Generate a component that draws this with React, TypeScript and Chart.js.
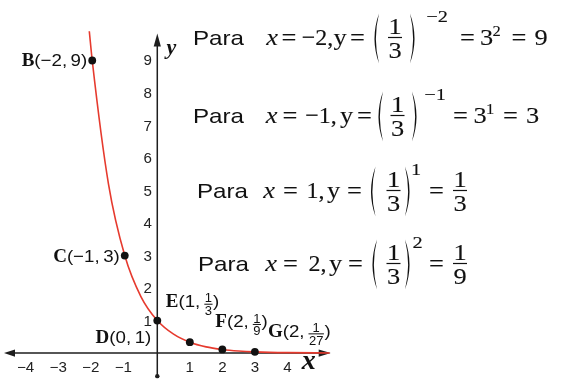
import React, { useEffect, useRef } from "react";
import { Chart, registerables } from "chart.js";

Chart.register(...registerables);

// ---------- data ----------
const POINT_NAMES = ["B", "C", "D", "E", "F", "G"];
const POINT_X = [-2, -1, 0, 1, 2, 3];
const POINT_Y = [9, 3, 1, 1 / 3, 1 / 9, 1 / 27];
const LABEL_X_TEXT = ["−2", "−1", "0", "1", "2", "2"];
const LABEL_Y_TEXT = ["9", "3", "1", "1/3", "1/9", "1/27"];

// curve samples
const CURVE_X = [-2.09, -2, -1.5, -1, -0.5, 0, 0.5, 1, 1.5, 2, 2.5, 3, 4, 5.3];
const CURVE_Y = [9.9, 9, 5.2, 3, 1.73, 1, 0.58, 0.333, 0.19, 0.111, 0.064, 0.037, 0.012, 0.003];

const X_TICKS = [-4, -3, -2, -1, 1, 2, 3, 4];
const X_TICK_LABELS = ["−4", "−3", "−2", "−1", "1", "2", "3", "4"];
const Y_TICKS = [1, 2, 3, 4, 5, 6, 7, 8, 9];
const Y_TICK_LABELS = ["1", "2", "3", "4", "5", "6", "7", "8", "9"];

// formula rows: Para x = X, y = (1/3)^EXP = ...
const FORMULA_X = ["−2", "−1", "1", "2"];
const FORMULA_EXP = ["−2", "−1", "1", "2"];
const FORMULA_BASE = ["1", "3"];
const FORMULA_POWER: (string[] | null)[] = [["3", "2", "9"], ["3", "1", "3"], null, null];
const FORMULA_FRAC: (string[] | null)[] = [null, null, ["1", "3"], ["1", "9"]];

// ---------- layout / style ----------
const W = 564;
const H = 383;
const X_MIN = -4.712;
const X_MAX = 12.379;
const Y_MIN = -0.798;
const Y_MAX = 10.738;
const AXIS_X_END = [-4.712, 5.33];
const AXIS_Y_END = [-0.68, 9.83];
const RED = "#e63a2e";
const AXIS_COLOR = "#1e1e1e";

const SANS = '"Liberation Sans", Arial, sans-serif';
const SERIF = '"Liberation Serif", "Times New Roman", serif';

const LABEL_POS = [
  { align: "right", dx: -5, dy: 6 },
  { align: "right", dx: -5, dy: 6 },
  { align: "right", dx: -6, dy: 22 },
  { align: "left", dx: -24, dy: -35 },
  { align: "left", dx: -7, dy: -22 },
  { align: "left", dx: 13, dy: -15 },
];

const ROWS = [
  { base: 45, para: 193, xC: 272, eq1: 289, val: 317.5, yC: 340, eq2: 357.5, lp: 376, fr: 395, rp: 413, ex: 437, eq3: 467.5, b: 486.7, sup: 496.5, eq4: 519, res: 541 },
  { base: 123, para: 193, xC: 271.5, eq1: 290, val: 321, yC: 346.5, eq2: 364.5, lp: 380, fr: 397.5, rp: 415, ex: 435, eq3: 460.5, b: 480, sup: 490, eq4: 510.5, res: 532.5 },
  { base: 198, para: 197, xC: 269, eq1: 290.5, val: 315.5, yC: 333.5, eq2: 354.5, lp: 372.5, fr: 393.5, rp: 408, ex: 416, eq3: 436.5, res: 460 },
  { base: 271, para: 198, xC: 271, eq1: 290.5, val: 317.5, yC: 335.5, eq2: 355.5, lp: 374, fr: 393.5, rp: 408, ex: 417.5, eq3: 436.5, res: 460 },
];

function drawText(ctx: CanvasRenderingContext2D, s: string, x: number, y: number, font: string, align = "left", sx = 1, stroke = 0) {
  ctx.save();
  ctx.font = font;
  const w = ctx.measureText(s).width * sx;
  const left = align === "left" ? x : align === "center" ? x - w / 2 : x - w;
  ctx.translate(left, y);
  ctx.scale(sx, 1);
  ctx.textAlign = "left";
  ctx.textBaseline = "alphabetic";
  ctx.fillText(s, 0, 0);
  if (stroke > 0) {
    ctx.strokeStyle = ctx.fillStyle as string;
    ctx.lineWidth = stroke;
    ctx.strokeText(s, 0, 0);
  }
  ctx.restore();
  return w;
}

function measure(ctx: CanvasRenderingContext2D, s: string, font: string, sx = 1) {
  ctx.save();
  ctx.font = font;
  const w = ctx.measureText(s).width * sx;
  ctx.restore();
  return w;
}

function paren(ctx: CanvasRenderingContext2D, cx: number, top: number, bottom: number, dir: number) {
  const mid = (top + bottom) / 2;
  ctx.beginPath();
  ctx.moveTo(cx - dir * 3, top);
  ctx.quadraticCurveTo(cx + dir * 6, mid, cx - dir * 3, bottom);
  ctx.quadraticCurveTo(cx + dir * 3.2, mid, cx - dir * 3, top);
  ctx.closePath();
  ctx.fill();
}

function arrow(ctx: CanvasRenderingContext2D, tipX: number, tipY: number, dx: number, dy: number, len: number, half: number) {
  const bx = tipX - dx * len;
  const by = tipY - dy * len;
  ctx.beginPath();
  ctx.moveTo(tipX, tipY);
  ctx.lineTo(bx - dy * half, by + dx * half);
  ctx.lineTo(bx + dy * half, by - dx * half);
  ctx.closePath();
  ctx.fill();
}

const overlay = {
  id: "overlay",
  beforeDatasetsDraw(chart: any) {
    const ctx: CanvasRenderingContext2D = chart.ctx;
    const xs = chart.scales.x;
    const ys = chart.scales.y;
    const x0 = xs.getPixelForValue(0);
    const y0 = ys.getPixelForValue(0);
    ctx.save();
    ctx.fillStyle = "#fff";
    ctx.fillRect(0, 0, W, H);
    ctx.strokeStyle = AXIS_COLOR;
    ctx.fillStyle = AXIS_COLOR;
    ctx.lineWidth = 1.5;
    // x axis
    const xl = xs.getPixelForValue(AXIS_X_END[0]);
    const xr = xs.getPixelForValue(AXIS_X_END[1]);
    ctx.beginPath();
    ctx.moveTo(xl + 4, y0);
    ctx.lineTo(xr - 6, y0);
    ctx.stroke();
    arrow(ctx, xr, y0, 1, 0, 12, 3.6);
    arrow(ctx, xl, y0, -1, 0, 11, 3.6);
    // y axis
    const yb = ys.getPixelForValue(AXIS_Y_END[0]);
    const yt = ys.getPixelForValue(AXIS_Y_END[1]);
    ctx.beginPath();
    ctx.moveTo(x0, yb);
    ctx.lineTo(x0, yt + 6);
    ctx.stroke();
    arrow(ctx, x0, yt, 0, -1, 13, 3.6);
    ctx.beginPath();
    ctx.arc(x0, yb + 1, 2.2, 0, Math.PI * 2);
    ctx.fill();

    // tick labels
    ctx.fillStyle = "#222";
    X_TICKS.forEach((v, i) => {
      drawText(ctx, X_TICK_LABELS[i], xs.getPixelForValue(v) - (v < 0 ? 1.5 : 0), y0 + 18.5, `14px ${SANS}`, "center", 1.08);
    });
    Y_TICKS.forEach((v, i) => {
      drawText(ctx, Y_TICK_LABELS[i], x0 - 9.5, ys.getPixelForValue(v) + 5, `14px ${SANS}`, "center", 1.08);
    });

    // axis titles
    ctx.fillStyle = "#111";
    drawText(ctx, "y", x0 + 14, ys.getPixelForValue(AXIS_Y_END[1]) + 20, `bold italic 22px ${SERIF}`, "center");
    drawText(ctx, "x", xs.getPixelForValue(AXIS_X_END[1]) - 22, y0 + 16, `bold italic 28px ${SERIF}`, "center");
    ctx.restore();
  },
  afterDatasetsDraw(chart: any) {
    const ctx: CanvasRenderingContext2D = chart.ctx;
    const xs = chart.scales.x;
    const ys = chart.scales.y;
    ctx.save();
    ctx.fillStyle = "#111";
    ctx.strokeStyle = "#111";

    // point labels
    const LET = `bold 19px ${SERIF}`;
    const LS = `17px ${SANS}`;
    const LSX = 1.1;
    const FS = `13px ${SANS}`;
    const GAP = 3.5;
    POINT_NAMES.forEach((name, i) => {
      const px = xs.getPixelForValue(POINT_X[i]);
      const py = ys.getPixelForValue(POINT_Y[i]);
      const pos = LABEL_POS[i];
      const base = py + pos.dy;
      const yt = LABEL_Y_TEXT[i];
      const isFrac = yt.includes("/");
      const head = "(" + LABEL_X_TEXT[i] + ",";
      const tail = isFrac ? ")" : yt + ")";
      const [fn, fd] = isFrac ? yt.split("/") : ["", ""];
      const wl = measure(ctx, name, LET);
      const wh = measure(ctx, head, LS, LSX);
      const wf = isFrac ? Math.max(measure(ctx, fn, FS), measure(ctx, fd, FS)) + 2 : 0;
      const wt = measure(ctx, tail, LS, LSX);
      const total = wl + wh + GAP + wf + wt;
      let x = pos.align === "right" ? px + pos.dx - total : px + pos.dx;
      drawText(ctx, name, x, base, LET);
      x += wl;
      drawText(ctx, head, x, base, LS, "left", LSX);
      x += wh + GAP;
      if (isFrac) {
        const bar = base - 3;
        const cx = x + wf / 2;
        drawText(ctx, fn, cx, bar - 1.8, FS, "center");
        ctx.fillRect(x + 0.5, bar - 0.5, wf - 1, 1);
        drawText(ctx, fd, cx, bar + 11, FS, "center");
        x += wf;
      }
      drawText(ctx, tail, x, base, LS, "left", LSX);
    });

    // formulas
    const PARA = `21px ${SANS}`;
    const MF = `24px ${SERIF}`;
    const MI = `italic 24px ${SERIF}`;
    const SUP = `17px ${SERIF}`;
    const SUP2 = `15px ${SERIF}`;
    const SX = 1.1;
    const ST = 0.12;
    ROWS.forEach((r: any, i) => {
      const b = r.base;
      const bar = b - 7.5;
      ctx.fillStyle = "#111";
      drawText(ctx, "Para", r.para, b, PARA, "left", 1.15);
      drawText(ctx, "x", r.xC, b, MI, "center", SX, ST);
      drawText(ctx, "=", r.eq1, b, MF, "center", SX, ST);
      drawText(ctx, FORMULA_X[i] + ",", r.val, b, MF, "center", 1.0, ST);
      drawText(ctx, "y", r.yC, b, MF, "center", SX, ST);
      drawText(ctx, "=", r.eq2, b, MF, "center", SX, ST);
      paren(ctx, r.lp, bar - 24, bar + 26, -1);
      drawText(ctx, FORMULA_BASE[0], r.fr, bar - 4, MF, "center", SX, ST);
      ctx.fillRect(r.fr - 7, bar - 0.6, 14, 1.2);
      drawText(ctx, FORMULA_BASE[1], r.fr, bar + 20.5, MF, "center", SX, ST);
      paren(ctx, r.rp, bar - 24, bar + 26, 1);
      drawText(ctx, FORMULA_EXP[i], r.ex, b - 23, SUP, "center", 1.2, ST);
      drawText(ctx, "=", r.eq3, b, MF, "center", SX, ST);
      const pw = FORMULA_POWER[i];
      if (pw) {
        drawText(ctx, pw[0], r.b, b, MF, "center", SX, ST);
        drawText(ctx, pw[1], r.sup, b - 9, SUP2, "center", SX, ST);
        drawText(ctx, "=", r.eq4, b, MF, "center", SX, ST);
        drawText(ctx, pw[2], r.res, b, MF, "center", SX, ST);
      }
      const fr = FORMULA_FRAC[i];
      if (fr) {
        drawText(ctx, fr[0], r.res, bar - 4, MF, "center", SX, ST);
        ctx.fillRect(r.res - 7, bar - 0.6, 14, 1.2);
        drawText(ctx, fr[1], r.res, bar + 20.5, MF, "center", SX, ST);
      }
    });
    ctx.restore();
  },
};

export default function App() {
  const ref = useRef<HTMLCanvasElement | null>(null);
  useEffect(() => {
    let chart: Chart | null = null;
    let cancelled = false;
    const fontsReady = (document as any).fonts
      ? Promise.all([
          (document as any).fonts.load(`16px "Liberation Sans"`),
          (document as any).fonts.load(`16px "Liberation Serif"`),
          (document as any).fonts.load(`italic 16px "Liberation Serif"`),
          (document as any).fonts.load(`bold 16px "Liberation Serif"`),
          (document as any).fonts.load(`bold italic 16px "Liberation Serif"`),
        ]).catch(() => null)
      : Promise.resolve(null);
    fontsReady.then(() => {
      if (cancelled || !ref.current) return;
      chart = new Chart(ref.current, {
        type: "line",
        data: {
          datasets: [
            {
              type: "scatter",
              data: POINT_X.map((x, i) => ({ x, y: POINT_Y[i] })),
              backgroundColor: "#111",
              borderColor: "#111",
              borderWidth: 0,
              pointRadius: 3.9,
              showLine: false,
              order: 0,
            } as any,
            {
              type: "line",
              data: CURVE_X.map((x, i) => ({ x, y: CURVE_Y[i] })),
              borderColor: RED,
              borderWidth: 1.6,
              pointRadius: 0,
              cubicInterpolationMode: "monotone",
              fill: false,
              order: 1,
            } as any,
          ],
        },
        options: {
          animation: false,
          responsive: false,
          events: [],
          layout: { padding: 0 },
          plugins: { legend: { display: false }, tooltip: { enabled: false } },
          scales: {
            x: { type: "linear", min: X_MIN, max: X_MAX, display: false },
            y: { type: "linear", min: Y_MIN, max: Y_MAX, display: false },
          },
        },
        plugins: [overlay],
      });
    });
    return () => {
      cancelled = true;
      if (chart) chart.destroy();
    };
  }, []);
  return (
    <div style={{ position: "absolute", left: 0, top: 0, width: W, height: H, background: "#fff" }}>
      <canvas ref={ref} width={W} height={H} style={{ display: "block", width: W, height: H }} />
    </div>
  );
}
